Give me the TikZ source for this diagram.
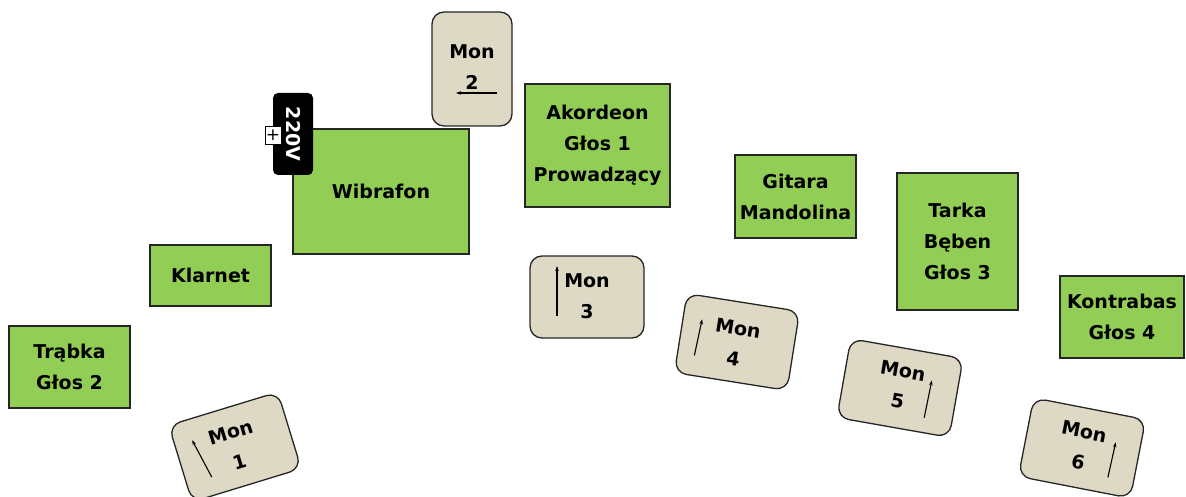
\documentclass[tikz,border=0pt]{standalone}
\usepackage{fontspec}
\setmainfont{DejaVu Sans}
\usetikzlibrary{arrows.meta}
\definecolor{instrgreen}{RGB}{146,206,86}
\definecolor{monbeige}{RGB}{221,217,196}
\begin{document}
\begin{tikzpicture}[x=1pt,y=-1pt,
    instr/.style={draw=black!85,line width=1.3pt,fill=instrgreen,inner sep=0pt,
      align=center,font=\fontsize{19}{31}\selectfont\bfseries},
    mon/.style={draw=black!85,line width=1.3pt,fill=monbeige,rounded corners=12pt,
      inner sep=0pt,minimum width=114pt,minimum height=80pt},
    montext/.style={align=center,font=\fontsize{19}{31}\selectfont\bfseries},
    dir/.style={-{Stealth[length=5pt,width=3.5pt]},line width=1.1pt}]
  \useasboundingbox (0,0) rectangle (1186,497);
  % instruments
  \node[instr,minimum width=121pt,minimum height=82pt] (trabka) at (69.5,367) {Trąbka\\Głos 2};
  \node[instr,minimum width=121pt,minimum height=61pt] (klarnet) at (210.5,275.5) {Klarnet};
  \node[instr,minimum width=176pt,minimum height=125pt] (wibrafon) at (381,191.5) {Wibrafon};
  \node[instr,minimum width=145pt,minimum height=123pt] (akordeon) at (597.5,145.5) {Akordeon\\Głos 1\\Prowadzący};
  \node[instr,minimum width=121pt,minimum height=83pt] (gitara) at (795.5,196.5) {Gitara\\Mandolina};
  \node[instr,minimum width=121pt,minimum height=137pt] (tarka) at (957.5,241.5) {Tarka\\Bęben\\Głos 3};
  \node[instr,minimum width=124pt,minimum height=82pt] (kontrabas) at (1122,317) {Kontrabas\\Głos 4};
  % power
  \node[fill=black,rounded corners=5pt,rotate=-90,minimum width=82pt,minimum height=40pt,
    inner sep=0pt,text=white,font=\fontsize{19}{22}\selectfont\bfseries] (plug) at (293,134) {220V};
  \node[draw,fill=white,line width=0.8pt,minimum width=16pt,minimum height=18pt,inner sep=0pt,
    font=\fontsize{17}{17}\selectfont] (plus) at (273,135) {+};
  % monitors
  \begin{scope}[shift={(472,69)}]
    \node[mon,minimum width=80pt,minimum height=114pt] (mon2) at (0,0) {};
    \node[montext] (mon2t) at (0,-2) {Mon\\2};
    \coordinate (mon2a) at (25,24);
    \coordinate (mon2b) at (-16,24);
    \draw[dir] (mon2a) -- (mon2b);
  \end{scope}
  \begin{scope}[shift={(587,297)}]
    \node[mon,minimum height=82pt] (mon3) at (0,0) {};
    \node[montext] (mon3t) at (0,-1) {Mon\\3};
    \coordinate (mon3a) at (-30,19);
    \coordinate (mon3b) at (-30,-31);
    \draw[dir] (mon3a) -- (mon3b);
  \end{scope}
  \begin{scope}[shift={(235,447)},rotate=17,transform shape]
    \node[mon] (mon1) at (0,0) {};
    \node[montext] (mon1t) at (0,0) {Mon\\1};
    \coordinate (mon1a) at (-31,22);
    \coordinate (mon1b) at (-39,-19);
    \draw[dir] (mon1a) -- (mon1b);
  \end{scope}
  \begin{scope}[shift={(737,342)},rotate=-9,transform shape]
    \node[mon] (mon4) at (0,0) {};
    \node[montext] (mon4t) at (-1,2) {Mon\\4};
    \coordinate (mon4a) at (-40,20);
    \coordinate (mon4b) at (-38,-17);
    \draw[dir] (mon4a) -- (mon4b);
  \end{scope}
  \begin{scope}[shift={(900,388)},rotate=-10,transform shape]
    \node[mon] (mon5) at (0,0) {};
    \node[montext] (mon5t) at (0,-2) {Mon\\5};
    \coordinate (mon5a) at (29,25);
    \coordinate (mon5b) at (30,-13);
    \draw[dir] (mon5a) -- (mon5b);
  \end{scope}
  \begin{scope}[shift={(1082,448)},rotate=-11,transform shape]
    \node[mon] (mon6) at (0,0) {};
    \node[montext] (mon6t) at (-1,-1) {Mon\\6};
    \coordinate (mon6a) at (31,24);
    \coordinate (mon6b) at (32,-12);
    \draw[dir] (mon6a) -- (mon6b);
  \end{scope}
\end{tikzpicture}
\end{document}
